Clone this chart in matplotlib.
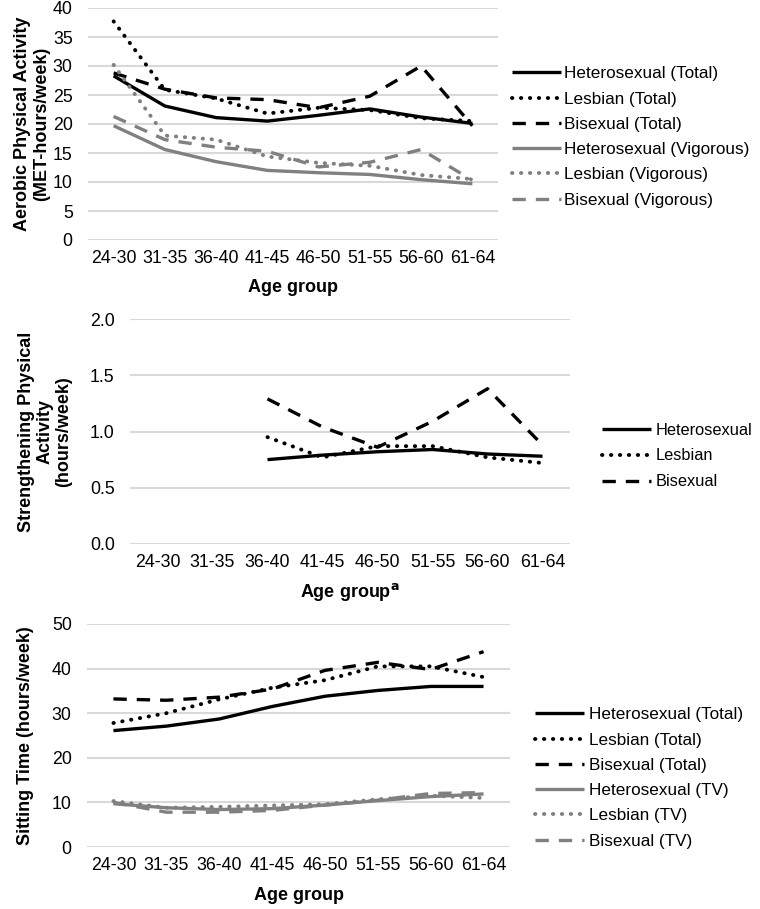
import numpy as np
from matplotlib import pyplot as plt

plt.rcParams['font.family'] = ['Liberation Sans', 'DejaVu Sans']

ages = ["24-30", "31-35", "36-40", "41-45", "46-50", "51-55", "56-60", "61-64"]

# aerobic activity (MET-hours/week)
aer_het_tot = [28.3, 23.1, 21.1, 20.5, 21.5, 22.6, 21.2, 20.1]
aer_les_tot = [37.7, 25.9, 24.4, 21.8, 22.8, 22.4, 21.0, 20.5]
aer_bi_tot = [28.8, 26.0, 24.5, 24.2, 22.8, 24.8, 30.0, 19.7]
aer_het_vig = [19.7, 15.6, 13.5, 12.0, 11.6, 11.3, 10.4, 9.7]
aer_les_vig = [30.2, 18.0, 17.3, 14.4, 13.3, 12.8, 11.2, 10.5]
aer_bi_vig = [21.3, 17.3, 16.0, 15.3, 12.6, 13.4, 15.6, 10.3]

# strengthening activity (hours/week), only from 36-40 on
str_het = [None, None, 0.75, 0.79, 0.82, 0.84, 0.80, 0.78]
str_les = [None, None, 0.95, 0.77, 0.87, 0.87, 0.77, 0.72]
str_bi = [None, None, 1.29, 1.04, 0.86, 1.09, 1.38, 0.88]

# sitting time (hours/week)
sit_het_tot = [26.1, 27.1, 28.7, 31.5, 33.8, 35.1, 36.0, 36.0]
sit_les_tot = [27.8, 30.0, 33.1, 35.7, 37.4, 40.5, 40.5, 38.1]
sit_bi_tot = [33.2, 32.9, 33.6, 35.4, 39.6, 41.4, 39.8, 43.8]
sit_het_tv = [9.7, 8.8, 8.4, 8.6, 9.4, 10.4, 11.3, 11.9]
sit_les_tv = [10.3, 8.8, 9.0, 9.3, 9.6, 10.7, 11.5, 11.0]
sit_bi_tv = [10.0, 7.8, 7.8, 8.2, 9.4, 10.5, 12.0, 12.2]

BLACK = "black"
GREY = "#808080"
LW = 2.4
DOT = (0, (0.1, 2.2))
DASH = (0, (4, 3))
FS_TICK = 12.8
FS_LAB = 13
FS_LEG = 12.3


def arr(v):
    return np.array([np.nan if x is None else x for x in v], dtype=float)


def draw(ax, series, ymax, ystep, fmt):
    x = np.arange(len(ages))
    for vals, col, ls, lab in series:
        if ls == DOT:
            ax.plot(x, arr(vals), color=col, lw=LW + 0.4, linestyle=ls,
                    dash_capstyle="round", label=lab)
        else:
            ax.plot(x, arr(vals), color=col, lw=LW, linestyle=ls,
                    dash_capstyle="butt", solid_capstyle="butt", label=lab)
    ax.set_xlim(-0.5, len(ages) - 0.5)
    ax.set_ylim(0, ymax)
    ticks = np.arange(0, ymax + ystep / 2, ystep)
    ax.set_yticks(ticks)
    ax.set_yticklabels([fmt.format(t) for t in ticks])
    ax.set_xticks(x)
    ax.set_xticklabels(ages)
    ax.tick_params(axis="y", length=0, labelsize=FS_TICK, pad=11)
    ax.tick_params(axis="x", length=0, labelsize=FS_TICK, pad=7)
    ax.grid(axis="y", color="#d9d9d9", lw=1.5)
    ax.set_axisbelow(True)
    for s in ax.spines.values():
        s.set_visible(False)


def labels(ax, ylab, xlab, yx, xy):
    ax.set_ylabel(ylab, fontsize=FS_LAB, fontweight="bold", va="center", linespacing=1.1)
    ax.yaxis.set_label_coords(yx, 0.5)
    ax.set_xlabel(xlab, fontsize=FS_LAB, fontweight="bold", va="center")
    ax.xaxis.set_label_coords(0.5, xy)


def legend(ax, x, y, pad, fs=FS_LEG, ls=0.6):
    ax.legend(loc="center left", bbox_to_anchor=(x / 760, 1 - y / 909),
              bbox_transform=fig.transFigure, frameon=False, fontsize=fs,
              handlelength=49 / (fs * 100 / 72), handletextpad=pad, labelspacing=ls,
              borderpad=0, borderaxespad=0)


fig = plt.figure(figsize=(7.6, 9.09), dpi=100)

# top panel
ax1 = fig.add_axes([88 / 760, 1 - 240 / 909, 410 / 760, 232 / 909])
draw(ax1, [
    (aer_het_tot, BLACK, "-", "Heterosexual (Total)"),
    (aer_les_tot, BLACK, DOT, "Lesbian (Total)"),
    (aer_bi_tot, BLACK, DASH, "Bisexual (Total)"),
    (aer_het_vig, GREY, "-", "Heterosexual (Vigorous)"),
    (aer_les_vig, GREY, DOT, "Lesbian (Vigorous)"),
    (aer_bi_vig, GREY, DASH, "Bisexual (Vigorous)"),
], 40, 5, "{:.0f}")
labels(ax1, "Aerobic Physical Activity\n(MET-hours/week)", "Age group",
       (32 - 88) / 410, -47 / 232)
legend(ax1, 512, 137, 0.2)

# middle panel
ax2 = fig.add_axes([130 / 760, 1 - 544 / 909, 440 / 760, 225 / 909])
draw(ax2, [
    (str_het, BLACK, "-", "Heterosexual"),
    (str_les, BLACK, DOT, "Lesbian"),
    (str_bi, BLACK, DASH, "Bisexual"),
], 2.0, 0.5, "{:.1f}")
labels(ax2, "Strengthening Physical\nActivity\n(hours/week)", "Age group$^{\\mathbf{a}}$",
       (45 - 130) / 440, -48 / 225)
legend(ax2, 602, 456, 0.3, fs=11.8, ls=0.66)

# bottom panel
ax3 = fig.add_axes([87 / 760, 1 - 847 / 909, 423 / 760, 223 / 909])
draw(ax3, [
    (sit_het_tot, BLACK, "-", "Heterosexual (Total)"),
    (sit_les_tot, BLACK, DOT, "Lesbian (Total)"),
    (sit_bi_tot, BLACK, DASH, "Bisexual (Total)"),
    (sit_het_tv, GREY, "-", "Heterosexual (TV)"),
    (sit_les_tv, GREY, DOT, "Lesbian (TV)"),
    (sit_bi_tv, GREY, DASH, "Bisexual (TV)"),
], 50, 10, "{:.0f}")
labels(ax3, "Sitting Time (hours/week)", "Age group", (25 - 87) / 423, -48 / 223)
legend(ax3, 535, 778, 0.3)

fig.savefig("out.png", dpi=100)
